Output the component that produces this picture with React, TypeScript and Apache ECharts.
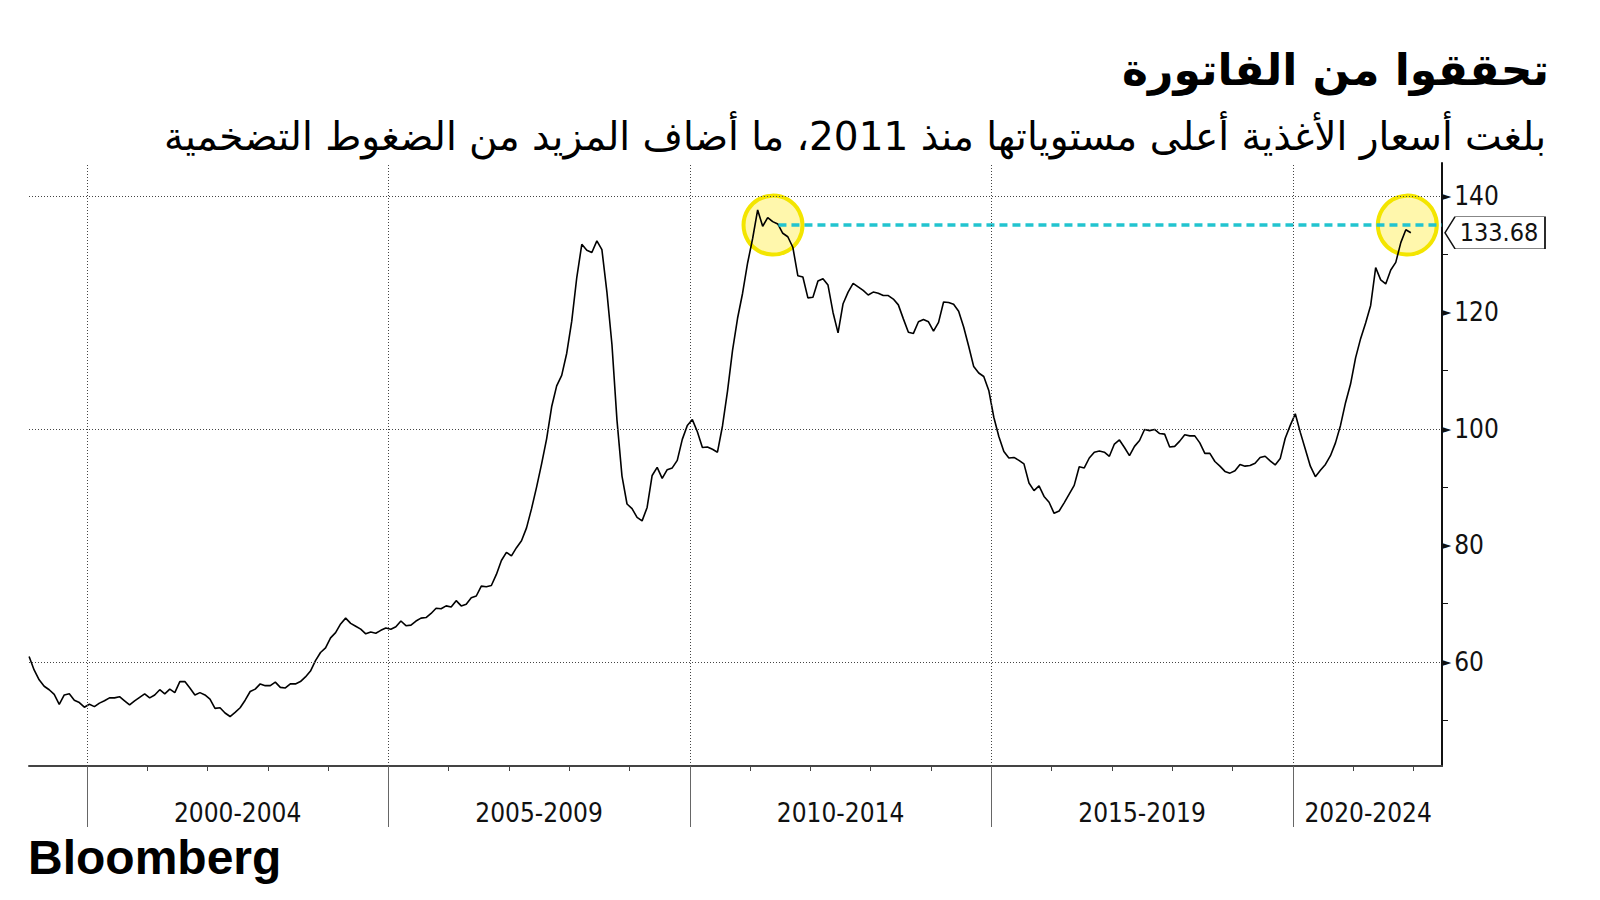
import React, { useEffect, useRef } from "react";
import * as echarts from "echarts";

const TITLE = "تحققوا من الفاتورة";
const SUBTITLE = "بلغت أسعار الأغذية أعلى مستوياتها منذ 2011، ما أضاف المزيد من الضغوط التضخمية";
const SOURCE = "Bloomberg";

// Monthly food price index, Jan 1999 – Dec 2021
const START_YEAR = 1999;
const v1999 = [60.9, 58.6, 56.9, 55.8, 55.2, 54.4, 52.7, 54.3, 54.5, 53.4, 53.0, 52.2];
const v2000 = [52.7, 52.3, 52.9, 53.3, 53.8, 53.8, 54.0, 53.3, 52.6, 53.3, 53.9, 54.5];
const v2001 = [53.8, 54.3, 55.2, 54.5, 55.3, 54.7, 56.6, 56.6, 55.5, 54.3, 54.7, 54.3];
const v2002 = [53.6, 52.0, 52.1, 51.2, 50.6, 51.3, 52.1, 53.4, 54.9, 55.3, 56.2, 55.9];
const v2003 = [55.9, 56.5, 55.6, 55.5, 56.2, 56.2, 56.6, 57.4, 58.4, 60.2, 61.6, 62.4];
const v2004 = [64.1, 65.0, 66.5, 67.5, 66.6, 66.1, 65.6, 64.8, 65.1, 64.9, 65.4, 65.8];
const v2005 = [65.6, 66.0, 67.0, 66.2, 66.3, 67.0, 67.5, 67.6, 68.3, 69.2, 69.1, 69.6];
const v2006 = [69.4, 70.5, 69.6, 69.9, 71.0, 71.3, 73.0, 72.9, 73.1, 75.0, 77.4, 78.8];
const v2007 = [78.2, 79.6, 80.8, 83.0, 86.3, 90.0, 94.0, 98.3, 103.8, 107.4, 109.2, 113.0];
const v2008 = [118.5, 126.0, 131.7, 130.7, 130.3, 132.3, 130.8, 123.5, 114.5, 101.5, 91.9, 87.1];
const v2009 = [86.3, 84.8, 84.2, 86.5, 92.0, 93.4, 91.5, 93.0, 93.3, 94.6, 98.2, 100.6];
const v2010 = [101.6, 99.5, 96.8, 96.9, 96.5, 96.0, 100.5, 106.5, 113.5, 119.0, 123.3, 128.5];
const v2011 = [132.7, 137.6, 134.8, 136.3, 135.6, 135.2, 133.6, 133.0, 131.2, 126.3, 126.1, 122.5];
const v2012 = [122.6, 125.4, 125.8, 124.7, 120.0, 116.5, 121.5, 123.5, 125.0, 124.4, 123.8, 123.0];
const v2013 = [123.5, 123.3, 122.9, 122.9, 122.3, 121.3, 118.9, 116.6, 116.4, 118.4, 118.8, 118.4];
const v2014 = [116.8, 118.3, 121.8, 121.7, 121.4, 120.2, 117.5, 114.2, 110.7, 109.6, 109.0, 106.6];
const v2015 = [102.0, 98.7, 96.1, 95.0, 95.1, 94.6, 94.0, 90.7, 89.4, 90.2, 88.4, 87.4];
const v2016 = [85.5, 85.9, 87.3, 88.8, 90.3, 93.5, 93.3, 95.0, 96.0, 96.2, 96.0, 95.3];
const v2017 = [97.4, 98.1, 96.8, 95.4, 97.0, 98.0, 99.9, 99.7, 99.9, 99.2, 99.1, 96.9];
const v2018 = [97.0, 97.9, 99.0, 98.8, 98.8, 97.6, 95.8, 95.8, 94.4, 93.6, 92.7, 92.4];
const v2019 = [92.8, 93.9, 93.6, 93.7, 94.1, 95.1, 95.3, 94.5, 93.8, 94.9, 98.4, 100.6];
const v2020 = [102.6, 99.4, 96.5, 93.6, 91.8, 92.9, 93.9, 95.4, 97.6, 100.6, 104.5, 107.7];
const v2021 = [112.2, 115.5, 118.2, 121.2, 127.7, 125.6, 124.9, 127.3, 128.6, 132.0, 134.2, 133.68];

const MONTHLY = [
  ...v1999, ...v2000, ...v2001, ...v2002, ...v2003, ...v2004, ...v2005, ...v2006,
  ...v2007, ...v2008, ...v2009, ...v2010, ...v2011, ...v2012, ...v2013, ...v2014,
  ...v2015, ...v2016, ...v2017, ...v2018, ...v2019, ...v2020, ...v2021,
];

const PERIOD_LABELS = ["2000-2004", "2005-2009", "2010-2014", "2015-2019", "2020-2024"];
const PERIOD_LABEL_POS = [2002.5, 2007.5, 2012.5, 2017.5, 2021.25];
const PERIOD_BOUNDS = [2000, 2005, 2010, 2015, 2020];
const YEAR_TICKS = [2001, 2002, 2003, 2004, 2006, 2007, 2008, 2009, 2011, 2012, 2013, 2014, 2016, 2017, 2018, 2019, 2021, 2022];
const Y_TICKS = [50, 60, 70, 80, 90, 100, 110, 120, 130, 140];
const Y_LABELS = [60, 80, 100, 120, 140];
const Y_GRID = [60, 100, 140];
const LAST_VALUE = 133.68;
const MATCH_LEVEL = 135;
const HIGHLIGHT_DATES = [2011.38, 2021.9];
const DASH_START = 2011.47;

const X_MIN = 1999.04;
const X_MAX = 2022.475;
const Y_MIN = 42.1;
const Y_MAX = 145.67;

const AXIS_FONT = '"DejaVu Sans Condensed", "DejaVu Sans", sans-serif';
const AR_FONT = '"DejaVu Sans", sans-serif';

export default function App() {
  const ref = useRef<HTMLDivElement>(null);

  useEffect(() => {
    if (!ref.current) return;
    const chart = echarts.init(ref.current, undefined, { renderer: "svg" });

    const lineData = MONTHLY.map((v, i) => [START_YEAR + (i + 0.5) / 12, v]);

    chart.setOption({
      animation: false,
      backgroundColor: "#ffffff",
      grid: { left: 29, right: 158, top: 163, bottom: 134, containLabel: false },
      xAxis: [
        {
          type: "value",
          min: X_MIN,
          max: X_MAX,
          position: "bottom",
          axisLine: { show: true, lineStyle: { color: "#444", width: 2 } },
          axisTick: {
            show: true,
            customValues: PERIOD_BOUNDS,
            length: 61,
            lineStyle: { color: "#666", width: 1 },
          },
          axisLabel: {
            show: true,
            customValues: PERIOD_LABEL_POS,
            margin: 34,
            color: "#111",
            fontSize: 26,
            fontFamily: AXIS_FONT,
            formatter: (v: number) => {
              const idx = PERIOD_LABEL_POS.findIndex((p) => Math.abs(p - v) < 0.01);
              return idx >= 0 ? PERIOD_LABELS[idx] : "";
            },
          },
          splitLine: { show: false },
        },
        {
          type: "value",
          min: X_MIN,
          max: X_MAX,
          position: "bottom",
          axisLine: { show: false },
          axisTick: {
            show: true,
            customValues: YEAR_TICKS,
            length: 5,
            lineStyle: { color: "#444", width: 1 },
          },
          axisLabel: { show: false },
          splitLine: { show: false },
        },
      ],
      yAxis: {
        type: "value",
        position: "right",
        min: Y_MIN,
        max: Y_MAX,
        axisLine: { show: true, lineStyle: { color: "#111", width: 2 } },
        axisTick: {
          show: true,
          customValues: Y_TICKS,
          length: 6,
          lineStyle: { color: "#111", width: 1 },
        },
        axisLabel: {
          show: true,
          customValues: Y_LABELS,
          margin: 0,
          formatter: (v: number) => `{t|►}{v|${v}}`,
          rich: {
            t: { fontSize: 12, fontFamily: '"DejaVu Sans", sans-serif', color: "#111", padding: [0, 3, 0, 0] },
            v: { fontSize: 26, fontFamily: AXIS_FONT, color: "#111" },
          },
        },
        splitLine: { show: false },
      },
      series: [
        {
          type: "scatter",
          z: 1,
          silent: true,
          symbol: "circle",
          symbolSize: 59,
          data: HIGHLIGHT_DATES.map((d) => [d, MATCH_LEVEL]),
          itemStyle: {
            color: "rgba(255, 240, 90, 0.5)",
            borderColor: "#F3E500",
            borderWidth: 4,
            opacity: 1,
          },
        },
        {
          type: "line",
          z: 2,
          data: lineData,
          showSymbol: false,
          symbol: "none",
          lineStyle: { color: "#000", width: 1.6 },
          silent: true,
          markLine: {
            silent: true,
            symbol: ["none", "none"],
            label: { show: false },
            lineStyle: { color: "#444", width: 1, type: [1, 2] },
            data: [
              ...PERIOD_BOUNDS.map((x) => ({ xAxis: x })),
              ...Y_GRID.map((y) => ({ yAxis: y })),
            ],
          },
          markPoint: {
            silent: true,
            symbol: "path://M0,16L10,0L100,0L100,32L10,32Z",
            symbolSize: [100, 32],
            symbolKeepAspect: false,
            symbolOffset: [53, 0],
            itemStyle: { color: "#fff", borderColor: "#111", borderWidth: 1 },
            label: {
              show: true,
              position: "inside",
              offset: [4, 0],
              color: "#111",
              fontSize: 25,
              fontFamily: AXIS_FONT,
              formatter: () => LAST_VALUE.toFixed(2),
            },
            data: [{ coord: [X_MAX, LAST_VALUE], value: LAST_VALUE }],
          },
        },
        {
          type: "line",
          z: 3,
          silent: true,
          showSymbol: false,
          symbol: "none",
          data: [
            [DASH_START, MATCH_LEVEL],
            [X_MAX, MATCH_LEVEL],
          ],
          lineStyle: { color: "#22C4CF", width: 3.5, type: [8, 5] },
        },
      ],
      graphic: [
        {
          type: "text",
          x: 1549,
          y: 69,
          style: {
            text: TITLE,
            align: "right",
            verticalAlign: "middle",
            fontSize: 44,
            fontWeight: "bold",
            fontFamily: AR_FONT,
            fill: "#000",
          },
        },
        {
          type: "text",
          x: 1546,
          y: 136,
          style: {
            text: SUBTITLE,
            align: "right",
            verticalAlign: "middle",
            fontSize: 39,
            fontFamily: AR_FONT,
            fill: "#000",
          },
        },
        {
          type: "text",
          x: 28,
          y: 857,
          style: {
            text: SOURCE,
            align: "left",
            verticalAlign: "middle",
            fontSize: 48,
            fontWeight: "bold",
            fontFamily: '"Liberation Sans", Arial, sans-serif',
            fill: "#000",
          },
        },
      ],
    });

    return () => chart.dispose();
  }, []);

  return (
    <div
      ref={ref}
      style={{ position: "fixed", left: 0, top: 0, width: 1600, height: 900, background: "#fff" }}
    />
  );
}
